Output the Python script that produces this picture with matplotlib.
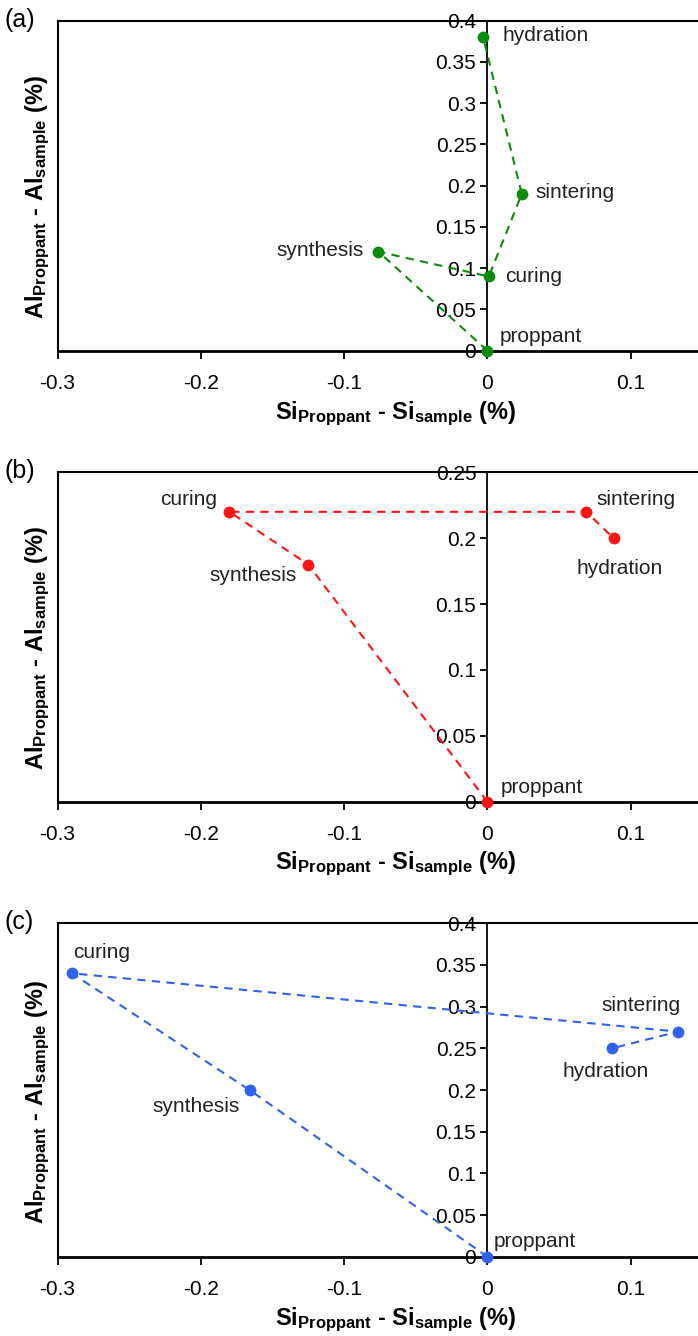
import matplotlib
matplotlib.use("Agg")
import matplotlib.pyplot as plt

plt.rcParams['font.family'] = ['Liberation Sans', 'DejaVu Sans']
plt.rcParams['mathtext.fontset'] = 'custom'
plt.rcParams['mathtext.rm'] = 'Liberation Sans'
plt.rcParams['mathtext.bf'] = 'Liberation Sans:bold'
plt.rcParams['mathtext.it'] = 'Liberation Sans:italic'

# ---- data ----
stages = ['proppant', 'synthesis', 'curing', 'sintering', 'hydration']

si_a = [0.0, -0.076, 0.001, 0.024, -0.003]
al_a = [0.0, 0.12, 0.09, 0.19, 0.38]

si_b = [0.0, -0.125, -0.180, 0.069, 0.088]
al_b = [0.0, 0.18, 0.22, 0.22, 0.20]

si_c = [0.0, -0.166, -0.290, 0.133, 0.087]
al_c = [0.0, 0.20, 0.34, 0.27, 0.25]

xticks = [-0.3, -0.2, -0.1, 0.0, 0.1]
xticklabels = ['-0.3', '-0.2', '-0.1', '0', '0.1']
yticks_a = [0, 0.05, 0.1, 0.15, 0.2, 0.25, 0.3, 0.35, 0.4]
yticklabels_a = ['0', '0.05', '0.1', '0.15', '0.2', '0.25', '0.3', '0.35', '0.4']
yticks_b = [0, 0.05, 0.1, 0.15, 0.2, 0.25]
yticklabels_b = ['0', '0.05', '0.1', '0.15', '0.2', '0.25']

# ---- styling / layout ----
colors = ['#0c8a0c', '#ff1414', '#3062f0']
panel_tags = ['(a)', '(b)', '(c)']
# label offsets in pixels (dx, dy) and horizontal alignment, per panel per stage
label_pos = [
    [(12, 14, 'left'), (-15, 1, 'right'), (16, 0, 'left'), (14, 1, 'left'), (19, 2, 'left')],
    [(13, 14, 'left'), (-12, -11, 'right'), (-12, 12, 'right'), (10, 12, 'left'), (6, -30, 'center')],
    [(6, 15, 'left'), (-10, -17, 'right'), (1, 21, 'left'), (-37, 26, 'center'), (-6, -23, 'center')],
]

W, H = 698, 1336
fig = plt.figure(figsize=(W / 100, H / 100), dpi=100)

# axes pixel boxes: (top, bottom)
boxes = [(20.7, 350.7), (472.3, 801.7), (923.3, 1256.7)]
left_px = 57.5
right_px = 57.5 + 0.45 * 1433

datasets = [(si_a, al_a, (0, 0.4), yticks_a, yticklabels_a),
            (si_b, al_b, (0, 0.25), yticks_b, yticklabels_b),
            (si_c, al_c, (0, 0.4), yticks_a, yticklabels_a)]

xlabel = r'Si$_{\mathbf{Proppant}}$ - Si$_{\mathbf{sample}}$ (%)'
ylabel = r'Al$_{\mathbf{Proppant}}$ - Al$_{\mathbf{sample}}$ (%)'

FS = 15

for i, ((top, bot), (xs, ys, ylim, yt, ytl)) in enumerate(zip(boxes, datasets)):
    ax = fig.add_axes([left_px / W, (H - bot) / H, (right_px - left_px) / W, (bot - top) / H])
    ax.set_xlim(-0.3, 0.15)
    ax.set_ylim(*ylim)
    c = colors[i]
    ax.plot(xs, ys, linestyle=(0, (4, 3)), color=c, linewidth=1.5, zorder=3)
    ax.plot(xs, ys, linestyle='none', marker='o', markersize=8.5, color=c,
            markeredgewidth=0, zorder=4, clip_on=False)
    for j, name in enumerate(stages):
        dx, dy, ha = label_pos[i][j]
        ax.annotate(name, (xs[j], ys[j]), xytext=(dx, dy), textcoords='offset pixels',
                    ha=ha, va='center', fontsize=FS, color='#222222', zorder=5)

    # spines
    ax.spines['left'].set_position(('data', 0))
    ax.spines['left'].set_linewidth(1.3)
    ax.spines['top'].set_linewidth(1.5)
    ax.spines['bottom'].set_linewidth(2.0)
    ax.spines['right'].set_visible(False)
    ax.axvline(-0.3, color='black', linewidth=1.5, clip_on=False, zorder=6)

    ax.set_xticks(xticks)
    ax.set_xticklabels(xticklabels)
    ax.set_yticks(yt)
    ax.set_yticklabels(ytl)
    ax.tick_params(axis='x', direction='out', length=6, width=1.3, labelsize=FS, pad=11)
    ax.tick_params(axis='y', direction='out', length=5, width=1.3, labelsize=FS, pad=3)
    for lbl in ax.get_yticklabels():
        lbl.set_zorder(2)

    ax.text(0.524, -0.19, xlabel, transform=ax.transAxes, ha='center', va='center',
            fontsize=17, fontweight='bold')
    ax.text(-0.03, 0.465, ylabel, transform=ax.transAxes, ha='center', va='center',
            rotation=90, fontsize=17, fontweight='bold')
    fig.text(5 / W, 1 - (top - 1) / H, panel_tags[i], ha='left', va='center', fontsize=18)

fig.savefig('out.png', dpi=100)
